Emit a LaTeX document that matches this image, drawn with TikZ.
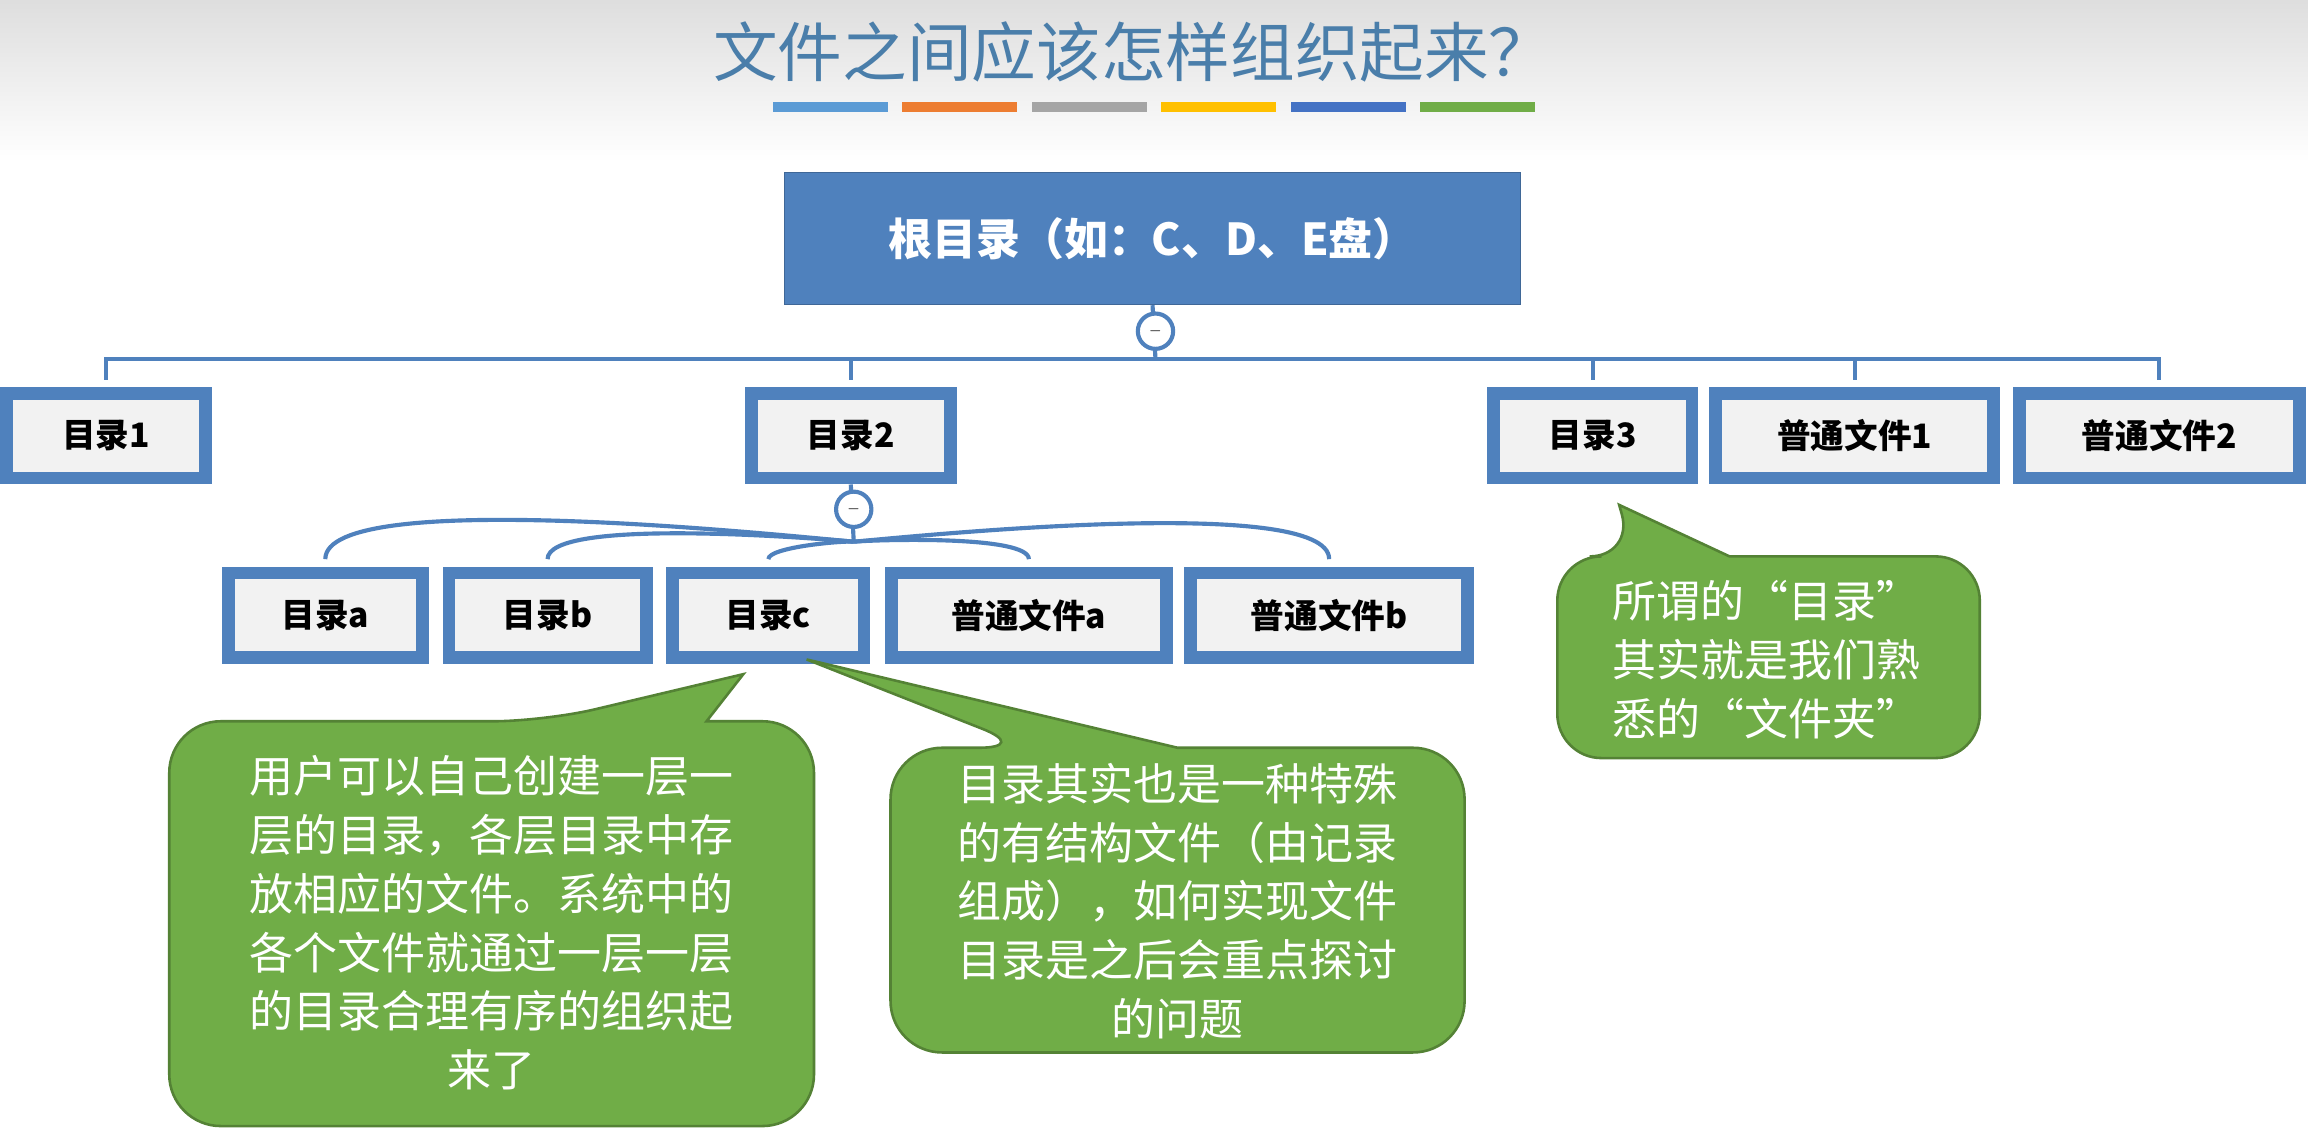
\documentclass[tikz,border=0pt]{standalone}
\usepackage{fontspec}
\setmainfont{Noto Sans CJK SC}
\usetikzlibrary{positioning}
\definecolor{titleblue}{RGB}{74,126,170}
\definecolor{boxblue}{RGB}{79,129,189}
\definecolor{boxfill}{RGB}{242,242,242}
\definecolor{calloutgreen}{RGB}{112,173,71}
\definecolor{calloutedge}{RGB}{84,130,53}
\definecolor{barA}{RGB}{91,155,213}
\definecolor{barB}{RGB}{237,125,49}
\definecolor{barC}{RGB}{165,165,165}
\definecolor{barD}{RGB}{255,192,0}
\definecolor{barE}{RGB}{68,114,196}
\definecolor{barF}{RGB}{112,173,71}
\tikzset{
  dirbox/.style={draw=boxblue, line width=5pt, fill=boxfill, inner sep=0pt,
    minimum height=1.15cm, font=\fontsize{13}{15}\selectfont\bfseries},
  treeline/.style={draw=boxblue, line width=1.6pt},
  toggle/.style={circle, draw=boxblue, line width=1.6pt, fill=white, minimum size=0.48cm, inner sep=0pt},
  callout/.style={fill=calloutgreen, draw=calloutedge, line width=1pt},
  callouttext/.style={text=white, align=center, font=\fontsize{17}{22.7}\selectfont}
}
\begin{document}
\begin{tikzpicture}[x=0.02cm, y=-0.02cm]
\useasboundingbox (0,0) rectangle (1568,775);
% background
\shade[top color=black!13, bottom color=white] (0,0) rectangle (1568,110);
\fill[white] (0,110) rectangle (1568,775);

% title and colour bars
\node[text=titleblue, font=\fontsize{25}{28}\selectfont] (title) at (770,35) {文件之间应该怎样组织起来？};
\foreach \c [count=\i from 0] in {barA,barB,barC,barD,barE,barF}
  \fill[\c] ({525+\i*88},69) rectangle ++(78,7);

% root
\node[fill=boxblue, draw=boxblue!80!black, minimum width=10cm, minimum height=1.8cm,
  text=white, font=\fontsize{17}{20}\selectfont\bfseries] (root) at (783,162) {根目录（如：C、D、E盘）};

% level 1
\node[dirbox, minimum width=2.7cm] (d1) at (72,296) {目录1};
\node[dirbox, minimum width=2.7cm] (d2) at (578,296) {目录2};
\node[dirbox, minimum width=2.7cm] (d3) at (1082,296) {目录3};
\node[dirbox, minimum width=3.78cm] (f1) at (1260,296) {普通文件1};
\node[dirbox, minimum width=3.8cm] (f2) at (1467,296) {普通文件2};

% level 2
\node[dirbox, minimum width=2.64cm] (da) at (221,418) {目录a};
\node[dirbox, minimum width=2.68cm] (db) at (372,418) {目录b};
\node[dirbox, minimum width=2.6cm] (dc) at (522,418) {目录c};
\node[dirbox, minimum width=3.74cm] (fa) at (699,418) {普通文件a};
\node[dirbox, minimum width=3.76cm] (fb) at (903,418) {普通文件b};

% tree lines of the root
\coordinate (hub) at (785,244);
\draw[treeline] (root.south) -- (hub);
\foreach \n in {d1,d2,d3,f1,f2}
  \draw[treeline] (hub) -| ([yshift=0.1cm]\n.north);
\node[toggle] (t1) at (785,225) {\tiny$-$};

% tree lines of 目录2
\coordinate (hub2) at (580,368);
\draw[treeline] (d2.south) -- (hub2);
\foreach \n in {da,db,dc}
  \draw[treeline] (hub2) to[out=175, in=90, looseness=0.35] ([yshift=0.1cm]\n.north);
\foreach \n in {fa,fb}
  \draw[treeline] (hub2) to[out=5, in=90, looseness=0.35] ([yshift=0.1cm]\n.north);
\node[toggle] (t2) at (580,346) {\tiny$-$};

% callouts
\draw[callout, rounded corners=0.7cm] (115,490) -- (370,490)
  {[sharp corners] -- (505,458) -- (480,490)} -- (553,490) -- (553,765) -- (115,765) -- cycle;
\node[callouttext] (note1) at (334,627) {用户可以自己创建一层一\\层的目录，各层目录中存\\放相应的文件。系统中的\\各个文件就通过一层一层\\的目录合理有序的组织起\\来了};

\draw[callout, rounded corners=0.7cm] (605,508) -- (700,508)
  {[sharp corners] -- (548,448) -- (800,508)} -- (995,508) -- (995,715) -- (605,715) -- cycle;
\node[callouttext] (note2) at (800,612) {目录其实也是一种特殊\\的有结构文件（由记录\\组成），如何实现文件\\目录是之后会重点探讨\\的问题};

\draw[callout, rounded corners=0.6cm] (1058,378) -- (1110,378)
  {[sharp corners] -- (1100,343) -- (1175,378)} -- (1345,378) -- (1345,515) -- (1058,515) -- cycle;
\node[callouttext, align=left] (note3) at (1200,448) {所谓的“目录”\\其实就是我们熟\\悉的“文件夹”};
\end{tikzpicture}
\end{document}
